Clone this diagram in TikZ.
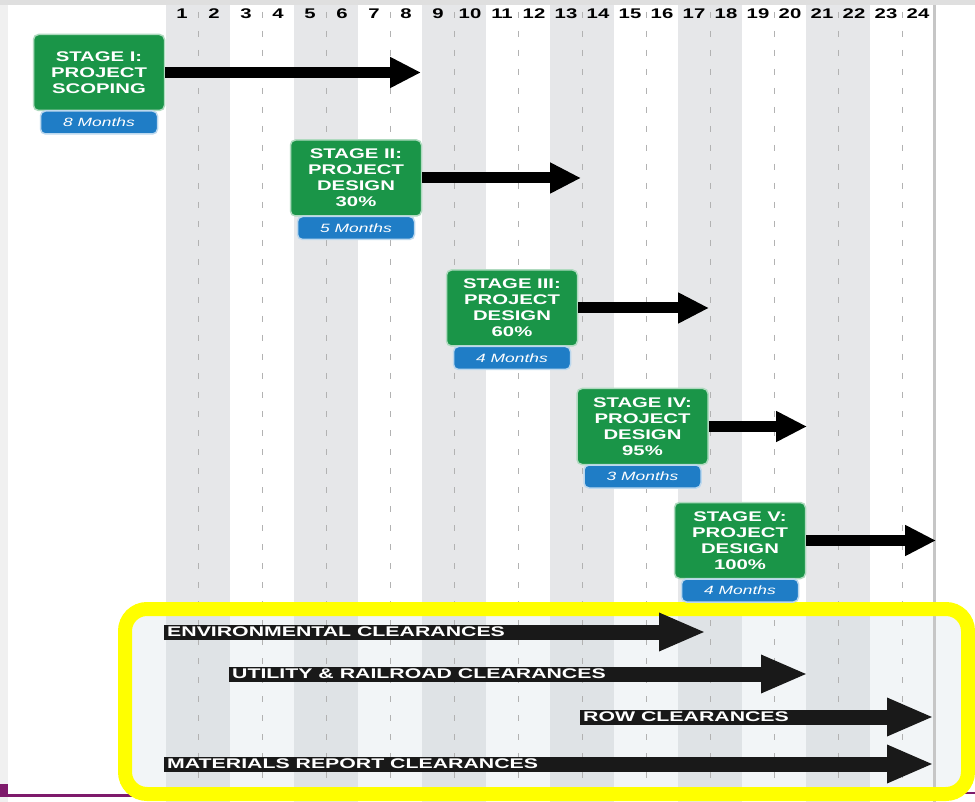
\documentclass[tikz,border=0pt]{standalone}
\usepackage{fontspec}
\newfontfamily\chartfont[FakeStretch=1.45]{Liberation Sans}
\newfontfamily\clearfont[FakeStretch=1.52]{Liberation Sans}
\usetikzlibrary{positioning,arrows.meta}
\definecolor{stagegreen}{HTML}{1A9548}
\definecolor{stageblue}{HTML}{1F7DC6}
\definecolor{bandgray}{HTML}{E6E7E9}
\definecolor{boxfill}{HTML}{F2F5F7}
\definecolor{boxband}{HTML}{DFE3E6}
\definecolor{hiyellow}{HTML}{FFFF00}
\definecolor{slidepurple}{HTML}{7E1A6B}

\begin{document}
\begin{tikzpicture}[x=1pt,y=-1pt,
  stage/.style={rectangle, rounded corners=5pt, fill=stagegreen, draw=stagegreen!35!white,
    line width=1.5pt, text=white, align=center, inner sep=2pt,
    minimum width=131pt, minimum height=76pt,
    font=\chartfont\bfseries\fontsize{14}{16}\selectfont},
  months/.style={rectangle, rounded corners=5pt, fill=stageblue, draw=stageblue!30!white,
    line width=1.5pt, text=white, inner sep=0pt, minimum width=117pt, minimum height=23pt,
    font=\chartfont\itshape\fontsize{12}{14}\selectfont},
  clearbar/.style={rectangle, fill=black!90, text=white, anchor=west, inner sep=0pt,
    inner xsep=3pt, minimum height=15pt,
    font=\clearfont\bfseries\fontsize{14}{15}\selectfont},
  stagearrow/.style={line width=11pt, -{Triangle[length=31pt,width=29pt]}},
  cleararrow/.style={draw=black!90, line width=15pt, -{Triangle[length=47pt,width=35pt]}},
  month/.style={font=\chartfont\bfseries\fontsize{14}{14}\selectfont, inner sep=0pt},
  gridline/.style={gray!60, line width=0.8pt, dash pattern=on 6pt off 13pt}]
  \useasboundingbox (0,0) rectangle (975,802);
  \fill[white] (0,0) rectangle (975,802);
  \fill[gray!12] (0,0) rectangle (8,802);
  \fill[gray!25] (0,0) rectangle (975,5);
  \foreach \m in {0,...,5}
    \fill[bandgray] (166+128*\m,5) rectangle (230+128*\m,802);
  \fill[boxfill, rounded corners=15pt] (132,616) rectangle (961,787);
  \begin{scope}
    \clip[rounded corners=15pt] (132,616) rectangle (961,787);
    \foreach \m in {0,...,5}
      \fill[boxband] (166+128*\m,616) rectangle (230+128*\m,787);
  \end{scope}
  \foreach \k in {0,...,11}
    \draw[gridline] (198+64*\k,12) -- (198+64*\k,802);
  \draw[gray!45, line width=3pt] (934,5) -- (934,802);
  \fill[slidepurple] (0,784) rectangle (8,797);
  \draw[slidepurple, line width=3pt] (0,795) -- (132,795);
  \draw[slidepurple, line width=2pt] (955,793) -- (975,793);
  \draw[hiyellow, line width=14pt, rounded corners=22pt] (125,609) rectangle (968,794);

  \foreach \n in {1,...,24}
    \node[month] (n\n) at (150+32*\n,14) {\n};

  \node[stage] (s1) at (99,72.5) {STAGE I:\\PROJECT\\SCOPING};
  \node[months, below=-1pt of s1] (d1) {8 Months};
  \node[stage] (s2) at (356,178) {STAGE II:\\PROJECT\\DESIGN\\30\%};
  \node[months, below=-1pt of s2] (d2) {5 Months};
  \node[stage] (s3) at (512,308) {STAGE III:\\PROJECT\\DESIGN\\60\%};
  \node[months, below=-1pt of s3] (d3) {4 Months};
  \node[stage] (s4) at (642.5,426.5) {STAGE IV:\\PROJECT\\DESIGN\\95\%};
  \node[months, below=-1pt of s4] (d4) {3 Months};
  \node[stage] (s5) at (740,540.5) {STAGE V:\\PROJECT\\DESIGN\\100\%};
  \node[months, below=-1pt of s5] (d5) {4 Months};
  \coordinate (t1) at (421,72.5);
  \coordinate (t2) at (581,178);
  \coordinate (t3) at (709,308);
  \coordinate (t4) at (807,426.5);
  \coordinate (t5) at (936,540.5);
  \draw[stagearrow] (s1.east) -- (t1);
  \draw[stagearrow] (s2.east) -- (t2);
  \draw[stagearrow] (s3.east) -- (t3);
  \draw[stagearrow] (s4.east) -- (t4);
  \draw[stagearrow] (s5.east) -- (t5);

  \node[clearbar] (env) at (164,632) {ENVIRONMENTAL CLEARANCES};
  \node[clearbar] (util) at (229,674) {UTILITY \& RAILROAD CLEARANCES};
  \node[clearbar] (row) at (580,717) {ROW CLEARANCES};
  \node[clearbar] (mat) at (164,764) {MATERIALS REPORT CLEARANCES};
  \coordinate (c1) at (706,632);
  \coordinate (c2) at (808,674);
  \coordinate (c3) at (934,717);
  \coordinate (c4) at (934,764);
  \draw[cleararrow] ([xshift=-0.5pt]env.east) -- (c1);
  \draw[cleararrow] ([xshift=-0.5pt]util.east) -- (c2);
  \draw[cleararrow] ([xshift=-0.5pt]row.east) -- (c3);
  \draw[cleararrow] ([xshift=-0.5pt]mat.east) -- (c4);
\end{tikzpicture}
\end{document}
